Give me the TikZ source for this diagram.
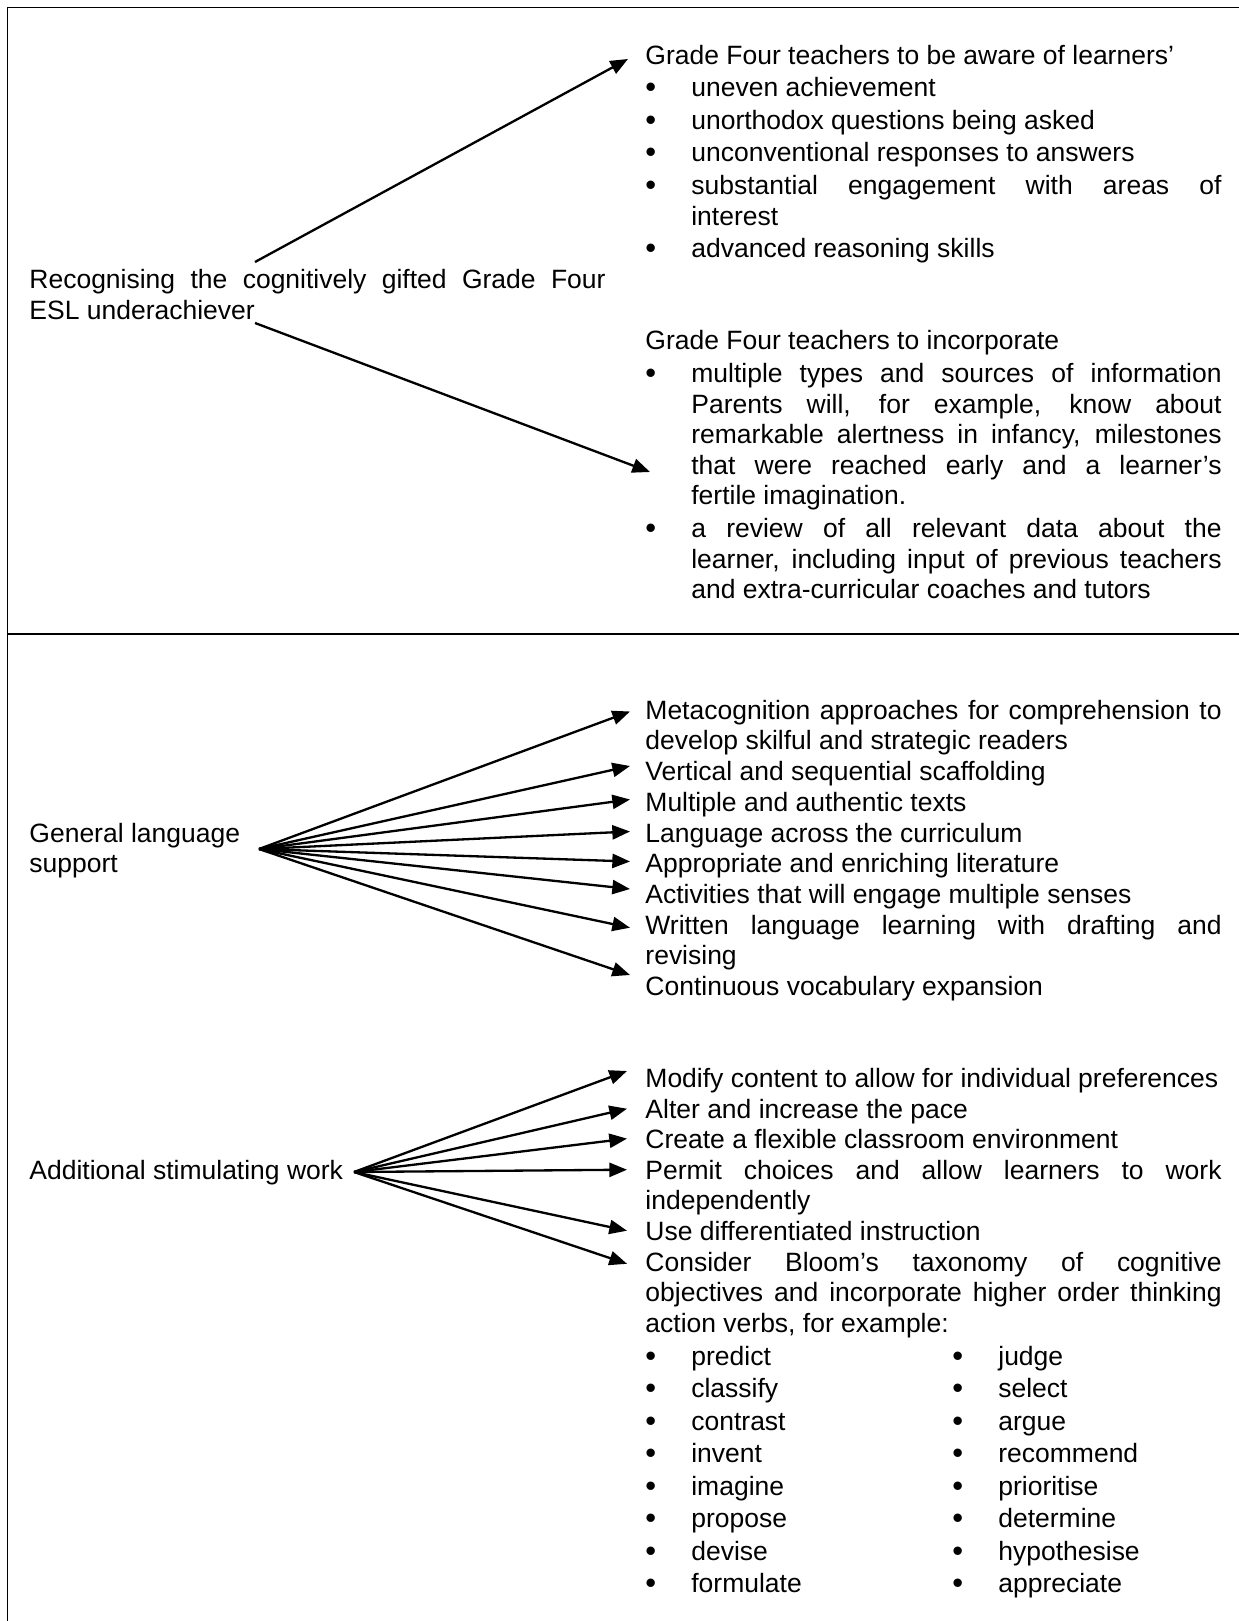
\documentclass[tikz,border=0pt]{standalone}
\usepackage{fontspec}
\setmainfont{Liberation Sans}
\usetikzlibrary{arrows.meta}

\tolerance=9999 \hbadness=10000
\hyphenpenalty=10000 \exhyphenpenalty=10000

% bullet item: dot, then a justified block
\newcommand{\bul}[1]{\makebox[20.8pt][l]{\raisebox{-0.3pt}{\fontsize{14}{14}\selectfont\textbullet}}\parbox[t]{240.2pt}{#1}}

\begin{document}
\begin{tikzpicture}[x=0.453pt,y=-0.453pt,
                    txt/.style={anchor=base west,inner sep=0pt,text width=261pt,align=justify,yshift=-0.7pt,
                                font=\fontsize{12}{13.85}\selectfont},
                    verb/.style={txt,text width=130pt},
                    arr/.style={line width=1.05pt,-{Triangle[length=8pt,width=6.4pt]}},
                    rule/.style={line width=0.8pt}]
  \useasboundingbox (0,0) rectangle (1239,1621);
  \draw[rule] (1239,7.5) -- (7.5,7.5) -- (7.5,1621);
  \draw[rule] (7.5,634) -- (1239,634);

  % upper part
  \node[txt] (rec)   at (29,287)  {Recognising the cognitively gifted Grade Four\linebreak ESL underachiever};
  \node[txt] (aware) at (645,63)  {Grade Four teachers to be aware of learners’};
  \node[txt] (a1)    at (645,95)  {\bul{uneven achievement}};
  \node[txt] (a2)    at (645,128) {\bul{unorthodox questions being asked}};
  \node[txt] (a3)    at (645,160) {\bul{unconventional responses to answers}};
  \node[txt] (a4)    at (645,193) {\bul{substantial engagement with areas of\linebreak interest}};
  \node[txt] (a5)    at (645,256) {\bul{advanced reasoning skills}};
  \node[txt] (incl)  at (645,348) {Grade Four teachers to incorporate};
  \node[txt] (b1)    at (645,381) {\bul{multiple types and sources of information\linebreak Parents will, for example, know about\linebreak remarkable alertness in infancy, milestones\linebreak that were reached early and a learner’s\linebreak fertile imagination.}};
  \node[txt] (b2)    at (645,536) {\bul{a review of all relevant data about the\linebreak learner, including input of previous teachers\linebreak and extra-curricular coaches and tutors}};
  \coordinate (recU) at (255,262);
  \coordinate (recD) at (255,323);
  \coordinate (tipA) at (628,59);
  \coordinate (tipB) at (650,472);
  \draw[arr] (recU) -- (tipA);
  \draw[arr] (recD) -- (tipB);

  % language support
  \node[txt] (gls) at (29,840.5)  {General language\\support};
  \node[txt] (m1)  at (645,717.5) {Metacognition approaches for comprehension to\linebreak develop skilful and strategic readers};
  \node[txt] (m2)  at (645,778.5) {Vertical and sequential scaffolding};
  \node[txt] (m3)  at (645,809.5) {Multiple and authentic texts};
  \node[txt] (m4)  at (645,840.5) {Language across the curriculum};
  \node[txt] (m5)  at (645,870.5) {Appropriate and enriching literature};
  \node[txt] (m6)  at (645,901.5) {Activities that will engage multiple senses};
  \node[txt] (m7)  at (645,932.6) {Written language learning with drafting and\linebreak revising};
  \node[txt] (m8)  at (645,993.6) {Continuous vocabulary expansion};
  \coordinate (glsfan) at (259,849);
  \foreach \ty [count=\i] in {711.5,766,799.5,831.5,861.5,889,927.7,975}
    \coordinate (g\i) at (630,\ty);
  \foreach \i in {1,...,8}
    \draw[arr] (glsfan) -- (g\i);

  % stimulating work
  \node[txt] (asw) at (29,1178)    {Additional stimulating work};
  \node[txt] (s1)  at (645,1085.6) {Modify content to allow for individual preferences};
  \node[txt] (s2)  at (645,1116.7) {Alter and increase the pace};
  \node[txt] (s3)  at (645,1146.6) {Create a flexible classroom environment};
  \node[txt] (s4)  at (645,1177.7) {Permit choices and allow learners to work\linebreak independently};
  \node[txt] (s5)  at (645,1238.7) {Use differentiated instruction};
  \node[txt] (s6)  at (645,1269.7) {Consider Bloom’s taxonomy of cognitive\linebreak objectives and incorporate higher order thinking\linebreak action verbs, for example:};
  \foreach \w [count=\i] in {predict,classify,contrast,invent,imagine,propose,devise,formulate}
    \node[verb] (vl\i) at (645,{1363.8+32.5*(\i-1)}) {\bul{\w}};
  \foreach \w [count=\i] in {judge,select,argue,recommend,prioritise,determine,hypothesise,appreciate}
    \node[verb] (vr\i) at (952,{1363.8+32.5*(\i-1)}) {\bul{\w}};
  \coordinate (aswfan) at (354,1172);
  \foreach \ty [count=\i] in {1071,1108.7,1138.6,1169.7,1230.7,1263.8}
    \coordinate (w\i) at (627,\ty);
  \foreach \i in {1,...,6}
    \draw[arr] (aswfan) -- (w\i);
\end{tikzpicture}
\end{document}
